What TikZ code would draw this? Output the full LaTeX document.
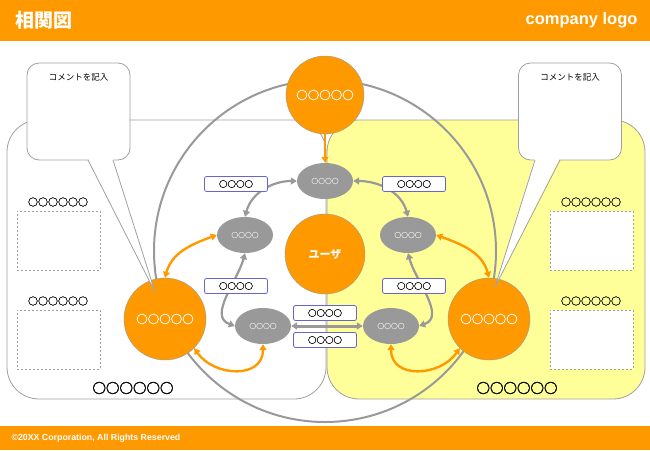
\documentclass[tikz,border=0pt]{standalone}
\usepackage{fontspec}
\setmainfont{Liberation Sans}
\newfontfamily\jpfont{Noto Sans CJK JP}
\newfontfamily\ringfont[FakeBold=1.6]{Noto Sans CJK JP}
\usepackage{tikz}
\usetikzlibrary{shapes.geometric, arrows.meta, positioning}
\definecolor{bzOrange}{RGB}{255,153,0}
\definecolor{bzYellow}{RGB}{255,255,153}
\definecolor{bzGray}{RGB}{153,153,153}
\definecolor{bzEdge}{RGB}{160,160,160}
\definecolor{bzBlue}{RGB}{102,102,204}
\definecolor{bzPale}{RGB}{228,228,228}
\newcommand\fsz[1]{\fontsize{#1}{#1}\selectfont}
\tikzstyle{garr} = [draw=bzGray, line width=2.2pt,
                    {Triangle[length=6pt,width=7pt]}-{Triangle[length=6pt,width=7pt]}]
\tikzstyle{oarr} = [draw=bzOrange, line width=2.4pt,
                    {Triangle[length=6pt,width=7pt]}-{Triangle[length=6pt,width=7pt]}]

\begin{document}
\begin{tikzpicture}[x=1pt, y=-1pt,
    panel/.style={draw=bzEdge, line width=0.8pt, rounded corners=32pt},
    person/.style={circle, draw=bzGray, fill=bzOrange, minimum size=82pt,
                   inner sep=0pt, text=white, font=\ringfont\fsz{11.5}},
    item/.style={ellipse, fill=bzGray, minimum width=56pt, minimum height=36pt,
                 inner sep=0pt, text=bzPale, font=\ringfont\fsz{6.8}},
    tag/.style={rectangle, rounded corners=2pt, draw=bzBlue, fill=white,
                line width=0.8pt, minimum width=63pt, minimum height=15pt,
                inner sep=0pt, font=\ringfont\fsz{8.5}},
    slot/.style={rectangle, draw=bzEdge, dash pattern=on 2pt off 2pt,
                 fill=white, minimum width=83pt, minimum height=59pt},
    slotcap/.style={font=\ringfont\fsz{10}},
    bigcap/.style={font=\ringfont\fsz{13.5}},
    note/.style={rectangle, rounded corners=12pt, draw=bzEdge, fill=white,
                 line width=0.8pt, minimum width=103pt, minimum height=97pt},
    tail/.style={draw=bzEdge, line width=0.8pt, line join=round}]

  \useasboundingbox (0,0) rectangle (650,450);

  \fill[bzOrange] (0,0) rectangle (650,41);
  \node[anchor=west, text=white, font=\jpfont\bfseries\fsz{19}] (title) at (12,20) {相関図};
  \node[anchor=east, text=white, font=\bfseries\fsz{16.5}] (logo) at (641,20) {company logo};
  \fill[bzOrange] (0,426) rectangle (650,450);
  \node[anchor=west, text=white, font=\bfseries\fsz{8.8}] (copy) at (8,438)
    {©20XX Corporation, All Rights Reserved};

  \draw[panel, fill=white] (7,120) rectangle (326,399);
  \draw[panel, fill=bzYellow] (327,120) rectangle (645,399);

  \node[slotcap] (capL1)  at (58,202)     {○○○○○○};
  \node[slot]    (slotL1) at (58.5,240.5) {};
  \node[slotcap] (capL2)  at (58,301)     {○○○○○○};
  \node[slot]    (slotL2) at (58.5,339.5) {};
  \node[slotcap] (capR1)  at (591,202)    {○○○○○○};
  \node[slot]    (slotR1) at (591.5,240.5) {};
  \node[slotcap] (capR2)  at (591,301)    {○○○○○○};
  \node[slot]    (slotR2) at (591.5,339.5) {};
  \node[bigcap] (nameL) at (133,388) {○○○○○○};
  \node[bigcap] (nameR) at (517,388) {○○○○○○};

  \draw[bzGray, line width=2pt] (325,251) circle[radius=171];

  \node[person, minimum size=78pt] (top)   at (325,95)  {○○○○○};
  \node[person, minimum size=80pt, font=\jpfont\bfseries\fsz{11}] (user) at (325,254) {ユーザ};
  \node[person] (left)  at (165,319) {○○○○○};
  \node[person] (right) at (489,319) {○○○○○};

  \node[item] (itT)  at (325,181) {○○○○};
  \node[item] (itLU) at (245,235) {○○○○};
  \node[item] (itRU) at (408,235) {○○○○};
  \node[item] (itLL) at (263,326) {○○○○};
  \node[item] (itRL) at (391,326) {○○○○};

  \draw[garr] (itLU.north) to[out=75,in=180] (itT.west);
  \draw[garr] (itRU.north) to[out=105,in=0] (itT.east);
  \draw[garr] (itLU.south) to[out=255,in=160] (itLL.west);
  \draw[garr] (itRU.south) to[out=285,in=20] (itRL.east);
  \draw[garr, line width=3pt] (itLL.east) -- (itRL.west);

  \node[tag] (tgTL) at (236,184) {○○○○};
  \node[tag] (tgTR) at (414,184) {○○○○};
  \node[tag] (tgML) at (236,286) {○○○○};
  \node[tag] (tgMR) at (414,286) {○○○○};
  \node[tag] (tgBU) at (325,313) {○○○○};
  \node[tag] (tgBL) at (325,340) {○○○○};

  \draw[oarr, -{Triangle[length=6pt,width=7pt]}] (top.south) -- (itT.north);
  \draw[oarr] (left.north) to[out=75,in=200] (itLU.west);
  \draw[oarr] (left.315) to[out=-55,in=-90,looseness=1.3] (itLL.south);
  \draw[oarr] (right.north) to[out=105,in=-20] (itRU.east);
  \draw[oarr] (right.225) to[out=235,in=-90,looseness=1.3] (itRL.south);

  \node[note, label={[anchor=north, yshift=-8pt, font=\jpfont\fsz{8.5}]north:コメントを記入}]
    (noteL) at (78.5,111.5) {};
  \node[note, label={[anchor=north, yshift=-8pt, font=\jpfont\fsz{8.5}]north:コメントを記入}]
    (noteR) at (570,111.5) {};
  \fill[white] (88,158) -- (155,292) -- (113,158) -- cycle;
  \draw[tail] (88,160) -- (155,292) -- (113,160);
  \fill[white] (535,158) -- (495,287) -- (560,158) -- cycle;
  \draw[tail] (535,160) -- (495,287) -- (560,160);
\end{tikzpicture}
\end{document}
